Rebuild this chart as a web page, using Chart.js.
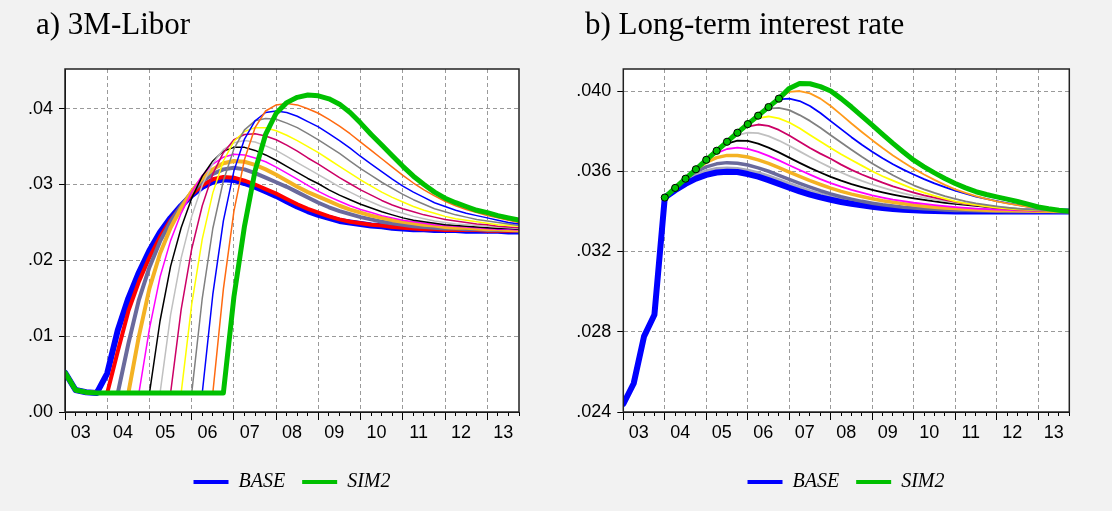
<!DOCTYPE html>
<html><head><meta charset="utf-8">
<script src="https://cdn.jsdelivr.net/npm/chart.js@4/dist/chart.umd.min.js"></script>
<style>
html,body{margin:0;padding:0;background:#f2f2f2;overflow:hidden;width:1112px;height:511px;position:relative}
canvas{position:absolute;top:0}
#c1{left:0}
#c2{left:556px}
</style></head><body>
<canvas id="c1" width="584" height="511" style="width:584px;height:511px"></canvas>
<canvas id="c2" width="580" height="511" style="width:580px;height:511px"></canvas>
<script>
// ---------- categories & tick labels ----------
const quarters = ['2003Q1','2003Q2','2003Q3','2003Q4','2004Q1','2004Q2','2004Q3','2004Q4','2005Q1','2005Q2','2005Q3','2005Q4','2006Q1','2006Q2','2006Q3','2006Q4','2007Q1','2007Q2','2007Q3','2007Q4','2008Q1','2008Q2','2008Q3','2008Q4','2009Q1','2009Q2','2009Q3','2009Q4','2010Q1','2010Q2','2010Q3','2010Q4','2011Q1','2011Q2','2011Q3','2011Q4','2012Q1','2012Q2','2012Q3','2012Q4','2013Q1','2013Q2','2013Q3','2013Q4'];
const yearLabels = ['03','04','05','06','07','08','09','10','11','12','13'];
const legendNames = ['BASE','SIM2'];
const titles = ['a) 3M-Libor', 'b) Long-term interest rate'];

// ---------- a) 3M-Libor ----------
const lBase    = [.0052,.0029,.0026,.0025,.0051,.0108,.0150,.0184,.0213,.0237,.0256,.0272,.0286,.0297,.0304,.0307,.0306,.0302,.0297,.0291,.0285,.0278,.0271,.0265,.0260,.0256,.0252,.0250,.0248,.0246,.0245,.0243,.0242,.0241,.0241,.0240,.0240,.0240,.0239,.0239,.0239,.0239,.0238,.0238];
const lRed     = [.0052,.0029,.0026,.0025,.0025,.0080,.0133,.0172,.0204,.0231,.0253,.0271,.0287,.0299,.0307,.0310,.0309,.0305,.0300,.0294,.0288,.0281,.0274,.0268,.0263,.0258,.0254,.0251,.0249,.0247,.0246,.0244,.0243,.0242,.0241,.0241,.0240,.0240,.0240,.0240,.0239,.0239,.0239,.0239];
const lSlate   = [.0052,.0029,.0026,.0025,.0025,.0025,.0090,.0148,.0191,.0225,.0251,.0272,.0290,.0304,.0314,.0320,.0322,.0320,.0315,.0309,.0303,.0297,.0290,.0283,.0276,.0270,.0265,.0261,.0257,.0254,.0251,.0249,.0247,.0245,.0244,.0243,.0242,.0242,.0241,.0241,.0240,.0240,.0240,.0239];
const lGold    = [.0052,.0029,.0026,.0025,.0025,.0025,.0025,.0100,.0163,.0209,.0243,.0269,.0291,.0308,.0320,.0328,.0331,.0330,.0326,.0320,.0313,.0305,.0297,.0290,.0284,.0278,.0272,.0267,.0263,.0259,.0256,.0253,.0251,.0249,.0247,.0246,.0244,.0243,.0243,.0242,.0241,.0241,.0240,.0240];
const lMagenta = [.0052,.0029,.0026,.0025,.0025,.0025,.0025,.0025,.0110,.0178,.0226,.0262,.0290,.0312,.0327,.0336,.0340,.0339,.0335,.0330,.0323,.0315,.0307,.0299,.0291,.0284,.0278,.0272,.0267,.0263,.0259,.0256,.0253,.0251,.0249,.0247,.0246,.0245,.0244,.0243,.0242,.0241,.0241,.0240];
const lBlack   = [.0052,.0029,.0026,.0025,.0025,.0025,.0025,.0025,.0025,.0120,.0192,.0243,.0282,.0311,.0331,.0344,.0349,.0349,.0345,.0339,.0332,.0324,.0316,.0308,.0301,.0293,.0286,.0280,.0274,.0269,.0264,.0260,.0256,.0253,.0251,.0249,.0247,.0246,.0245,.0244,.0243,.0242,.0242,.0241];
const lSilver  = [.0052,.0029,.0026,.0025,.0025,.0025,.0025,.0025,.0025,.0025,.0128,.0203,.0258,.0299,.0328,.0346,.0355,.0358,.0356,.0351,.0345,.0337,.0329,.0321,.0313,.0305,.0297,.0290,.0283,.0277,.0271,.0266,.0262,.0258,.0255,.0252,.0250,.0248,.0247,.0246,.0245,.0244,.0243,.0242];
const lCrimson = [.0052,.0029,.0026,.0025,.0025,.0025,.0025,.0025,.0025,.0025,.0025,.0135,.0215,.0272,.0314,.0342,.0359,.0366,.0367,.0364,.0359,.0352,.0344,.0335,.0327,.0318,.0309,.0301,.0293,.0286,.0279,.0273,.0268,.0264,.0260,.0257,.0254,.0252,.0250,.0248,.0247,.0245,.0244,.0243];
const lYellow  = [.0052,.0029,.0026,.0025,.0025,.0025,.0025,.0025,.0025,.0025,.0025,.0025,.0142,.0228,.0289,.0331,.0357,.0370,.0375,.0375,.0371,.0365,.0358,.0350,.0342,.0333,.0324,.0315,.0306,.0298,.0290,.0283,.0277,.0271,.0266,.0262,.0258,.0255,.0253,.0251,.0249,.0247,.0246,.0245];
const lGray    = [.0052,.0029,.0026,.0025,.0025,.0025,.0025,.0025,.0025,.0025,.0025,.0025,.0025,.0150,.0242,.0305,.0347,.0372,.0384,.0387,.0386,.0381,.0375,.0367,.0359,.0350,.0341,.0331,.0321,.0312,.0303,.0295,.0287,.0280,.0274,.0268,.0264,.0260,.0257,.0254,.0252,.0250,.0248,.0246];
const lBlue2   = [.0052,.0029,.0026,.0025,.0025,.0025,.0025,.0025,.0025,.0025,.0025,.0025,.0025,.0025,.0155,.0252,.0318,.0360,.0384,.0395,.0397,.0395,.0390,.0383,.0376,.0367,.0358,.0348,.0337,.0327,.0317,.0307,.0298,.0290,.0283,.0276,.0271,.0266,.0262,.0259,.0256,.0253,.0250,.0248];
const lOrange  = [.0052,.0029,.0026,.0025,.0025,.0025,.0025,.0025,.0025,.0025,.0025,.0025,.0025,.0025,.0025,.0162,.0265,.0333,.0375,.0397,.0405,.0407,.0405,.0400,.0394,.0386,.0377,.0367,.0356,.0345,.0334,.0323,.0312,.0302,.0293,.0285,.0278,.0272,.0267,.0263,.0259,.0256,.0253,.0250];
const lSim2    = [.0052,.0029,.0026,.0025,.0025,.0025,.0025,.0025,.0025,.0025,.0025,.0025,.0025,.0025,.0025,.0025,.0152,.0245,.0318,.0366,.0394,.0408,.0415,.0418,.0417,.0413,.0406,.0395,.0381,.0366,.0352,.0338,.0324,.0311,.0300,.0290,.0282,.0276,.0271,.0266,.0263,.0259,.0256,.0253];

// ---------- b) Long-term interest rate ----------
const rBase    = [.0244,.02542,.02777,.02885,.03469,.03505,.03537,.03563,.03582,.03594,.03598,.03596,.03586,.03573,.03556,.03537,.03518,.035,.03484,.0347,.03458,.03447,.03438,.0343,.03423,.03417,.03412,.03408,.03405,.03403,.03402,.03401,.034,.034,.034,.034,.034,.034,.034,.034,.034,.034,.034,.034];
const rRed     = [null,null,null,null,.03469,.03517,.03552,.0358,.036,.03611,.03614,.03611,.03603,.0359,.03574,.03556,.03537,.03518,.035,.03484,.0347,.03458,.03447,.03438,.0343,.03424,.03418,.03414,.0341,.03407,.03405,.03403,.03402,.03401,.034,.034,.034,.034,.034,.034,.034,.034,.034,.034];
const rSlate   = [null,null,null,null,.03469,.03517,.03563,.03598,.03622,.03637,.03643,.0364,.03631,.03617,.036,.0358,.0356,.0354,.03521,.03503,.03487,.03473,.03461,.0345,.03441,.03433,.03427,.03421,.03417,.03413,.0341,.03407,.03405,.03404,.03403,.03402,.03401,.034,.034,.034,.034,.034,.034,.034];
const rGold    = [null,null,null,null,.03469,.03517,.03563,.0361,.03645,.03668,.03679,.03679,.03671,.03657,.03639,.03618,.03596,.03574,.03553,.03534,.03516,.035,.03486,.03474,.03463,.03453,.03445,.03438,.03432,.03426,.03421,.03417,.03414,.03411,.03408,.03406,.03405,.03404,.03403,.03402,.03401,.03401,.034,.034];
const rMagenta = [null,null,null,null,.03469,.03517,.03563,.0361,.03657,.0369,.03711,.03718,.03712,.03697,.03677,.03654,.0363,.03606,.03583,.03561,.03541,.03523,.03507,.03493,.0348,.03469,.03459,.03451,.03443,.03437,.03431,.03426,.03421,.03417,.03414,.03411,.03409,.03407,.03405,.03404,.03403,.03402,.03401,.034];
const rBlack   = [null,null,null,null,.03469,.03517,.03563,.0361,.03657,.03702,.03738,.03753,.03751,.03738,.03718,.03694,.03668,.03642,.03617,.03594,.03572,.03553,.03536,.03521,.03507,.03495,.03484,.03474,.03465,.03457,.0345,.03443,.03437,.03432,.03427,.03423,.03419,.03415,.03412,.03409,.03406,.03404,.03402,.03401];
const rSilver  = [null,null,null,null,.03469,.03517,.03563,.0361,.03657,.03702,.03747,.0378,.03793,.0379,.03775,.03753,.03727,.03699,.03671,.03644,.03618,.03594,.03572,.03552,.03534,.03518,.03503,.0349,.03478,.03468,.03459,.03451,.03444,.03438,.03432,.03427,.03422,.03418,.03414,.0341,.03407,.03404,.03402,.03401];
const rCrimson = [null,null,null,null,.03469,.03517,.03563,.0361,.03657,.03702,.03747,.03792,.03823,.03833,.03826,.03806,.03778,.03747,.03716,.03688,.03662,.03633,.03607,.03584,.03563,.03543,.03525,.03509,.03494,.0348,.03468,.03457,.03447,.03438,.03431,.03424,.03418,.03413,.03409,.03406,.03404,.03402,.03401,.034];
const rYellow  = [null,null,null,null,.03469,.03517,.03563,.0361,.03657,.03702,.03747,.03792,.03835,.03865,.03873,.03864,.03843,.03814,.03781,.03748,.03716,.03685,.03656,.03628,.036,.03575,.03553,.03532,.03511,.03493,.03477,.03463,.0345,.0344,.03432,.03425,.03419,.03414,.0341,.03407,.03405,.03403,.03401,.034];
const rGray    = [null,null,null,null,.03469,.03517,.03563,.0361,.03657,.03702,.03747,.03792,.03835,.03877,.03912,.03916,.03905,.0388,.03851,.03817,.0378,.03743,.03707,.03672,.03639,.03609,.0358,.03554,.0353,.0351,.03492,.03476,.03462,.0345,.0344,.03432,.03425,.03419,.03414,.0341,.03407,.03404,.03402,.03401];
const rBlue2   = [null,null,null,null,.03469,.03517,.03563,.0361,.03657,.03702,.03747,.03792,.03835,.03877,.0392,.03958,.03962,.0395,.03925,.0389,.0385,.0381,.0377,.03732,.03697,.03665,.03635,.03608,.03584,.03561,.0354,.03521,.03503,.03488,.03474,.03462,.03451,.03441,.03432,.03424,.03417,.0341,.03405,.03401];
const rOrange  = [null,null,null,null,.03469,.03517,.03563,.0361,.03657,.03702,.03747,.03792,.03835,.03877,.0392,.03962,.03996,.04,.03988,.03962,.03925,.03882,.03838,.03796,.03755,.03716,.03679,.03645,.03613,.03584,.03557,.03532,.0351,.03492,.03476,.03462,.0345,.0344,.03431,.03423,.03416,.0341,.03405,.03401];
const rSim2    = [null,null,null,null,.03469,.03517,.03563,.0361,.03657,.03702,.03747,.03792,.03835,.03877,.0392,.03962,.04013,.04038,.04036,.04022,.04,.03962,.0392,.03875,.0383,.03784,.03739,.03696,.03655,.03622,.03592,.03564,.03539,.03517,.03498,.03484,.03472,.03461,.03449,.03436,.03422,.03413,.03406,.03401];

// ---------- styles (drawing order bottom -> top) ----------
const leftSeries = [
  {label:'BASE', data:lBase, color:'#0000ff', width:6},
  {label:'S1', data:lRed, color:'#ff0000', width:4},
  {label:'S2', data:lSlate, color:'#6a6a9c', width:4},
  {label:'S3', data:lGold, color:'#f4b223', width:4},
  {label:'S4', data:lMagenta, color:'#ff00ff', width:1.5},
  {label:'S5', data:lBlack, color:'#000000', width:1.5},
  {label:'S6', data:lSilver, color:'#c0c0c0', width:1.5},
  {label:'S7', data:lCrimson, color:'#cc0066', width:1.5},
  {label:'S8', data:lYellow, color:'#ffff00', width:1.5},
  {label:'S9', data:lGray, color:'#808080', width:1.5},
  {label:'S10', data:lBlue2, color:'#0000ff', width:1.5},
  {label:'S11', data:lOrange, color:'#ff6a10', width:1.5},
  {label:'SIM2', data:lSim2, color:'#00c000', width:5}
];
const rightSeries = [
  {label:'S1', data:rRed, color:'#a9a9bd', width:4},
  {label:'BASE', data:rBase, color:'#0000ff', width:6},
  {label:'S2', data:rSlate, color:'#6a6a9c', width:3.5},
  {label:'S3', data:rGold, color:'#f4b223', width:3.5},
  {label:'S4', data:rMagenta, color:'#ff00ff', width:1.8},
  {label:'S5', data:rBlack, color:'#000000', width:1.8},
  {label:'S6', data:rSilver, color:'#c0c0c0', width:1.8},
  {label:'S7', data:rCrimson, color:'#cc0066', width:1.8},
  {label:'S8', data:rYellow, color:'#ffff00', width:1.8},
  {label:'S9', data:rGray, color:'#808080', width:1.8},
  {label:'S10', data:rBlue2, color:'#0000ff', width:1.8},
  {label:'S11', data:rOrange, color:'#ff9a1a', width:1.8},
  {label:'SIM2', data:rSim2, color:'#00c000', width:5, markers:[4,15]}
];

const framePlugin = {
  id: 'frame',
  beforeDraw(chart) {
    const {ctx, chartArea: a} = chart;
    ctx.save(); ctx.fillStyle = '#ffffff';
    ctx.fillRect(a.left, a.top, a.right - a.left, a.bottom - a.top);
    ctx.restore();
  },
  afterDraw(chart, args, opts) {
    const {ctx, chartArea: a} = chart;
    ctx.save(); ctx.strokeStyle = '#222'; ctx.lineWidth = 1.5;
    ctx.strokeRect(a.left, a.top, a.right - a.left, a.bottom - a.top);
    ctx.fillStyle = '#000';
    ctx.font = '31px "Liberation Serif"';
    ctx.textAlign = 'left'; ctx.textBaseline = 'alphabetic';
    ctx.fillText(opts.text, opts.x, opts.y);
    ctx.restore();
  }
};

function makeChart(id, title, titleX, series, yMin, yMax, yStep, dec, axisW, axisW2, lblOffset) {
  const n = series.length;
  const datasets = series.map((s, i) => ({
    label: s.label,
    data: s.data.map((v, k) => ({x: k, y: v})),
    borderColor: s.color,
    backgroundColor: s.color,
    borderWidth: s.width,
    tension: 0,
    fill: false,
    clip: 0,
    spanGaps: false,
    order: n - 1 - i,
    borderJoinStyle: 'round',
    borderCapStyle: 'round',
    pointRadius: s.markers ? (c => (c.dataIndex >= s.markers[0] && c.dataIndex <= s.markers[1]) ? 3.6 : 0) : 0,
    pointBackgroundColor: s.color,
    pointBorderColor: '#000',
    pointBorderWidth: 1
  }));
  const transparent = 'rgba(0,0,0,0)';
  return new Chart(document.getElementById(id), {
    type: 'line',
    data: {datasets},
    plugins: [framePlugin],
    options: {
      responsive: false, animation: false, devicePixelRatio: 1, events: [],
      layout: {padding: {left: 0, right: 0, top: 69, bottom: 9}},
      plugins: {
        frame: {text: title, x: titleX, y: 33.5},
        tooltip: {enabled: false},
        title: {display: false},
        legend: {position: 'bottom', align: 'center',
          labels: {boxWidth: 35, boxHeight: 4, padding: 17, color: '#000',
            font: {family: 'Liberation Serif', size: 20, style: 'italic'},
            generateLabels: (chart) => legendNames.map(name => {
              const di = chart.data.datasets.findIndex(d => d.label === name);
              const ds = chart.data.datasets[di];
              return {text: name, fillStyle: ds.borderColor, strokeStyle: ds.borderColor, lineWidth: 0, hidden: false, datasetIndex: di, fontColor: '#000'};
            })}}
      },
      scales: {
        x: {type: 'linear', position: 'bottom', weight: 1, min: 0, max: quarters.length - 1,
          afterBuildTicks: s => { s.ticks = yearLabels.map((_, k) => ({value: 4 * k})); },
          afterFit: s => { s.height = 43; },
          ticks: {autoSkip: false, maxRotation: 0, minRotation: 0, padding: 2, labelOffset: lblOffset, color: '#000',
            font: {family: 'Liberation Sans', size: 18}, callback: (v, i) => yearLabels[i]},
          grid: {color: c => (c.tick && c.tick.value === 0) ? transparent : '#9a9a9a', lineWidth: 1,
            tickLength: 8, tickColor: '#000', tickWidth: 1},
          border: {display: true, color: '#000', width: 1, dash: [4, 3]}},
        xm: {type: 'linear', position: 'bottom', weight: 0, min: 0, max: quarters.length - 1,
          afterBuildTicks: s => { s.ticks = quarters.map((_, k) => ({value: k})); },
          afterFit: s => { s.height = 0; },
          ticks: {display: false},
          grid: {drawOnChartArea: false, tickLength: 4, tickColor: '#000', tickWidth: 1, color: '#000'},
          border: {display: false}},
        y: {type: 'linear', position: 'left', min: yMin, max: yMax,
          afterFit: s => { s.width = axisW; },
          ticks: {stepSize: yStep, includeBounds: false, padding: 6, color: '#000',
            font: {family: 'Liberation Sans', size: 18},
            callback: v => v.toFixed(dec).replace(/^0/, '')},
          grid: {color: c => (c.tick && Math.abs(c.tick.value - yMin) < 1e-9) ? transparent : '#9a9a9a', lineWidth: 1,
            tickLength: 6, tickColor: '#000'},
          border: {display: true, color: '#000', width: 1, dash: [4, 3]}},
        y2: {type: 'linear', position: 'right', display: true,
          afterFit: s => { s.width = axisW2; },
          ticks: {display: false}, grid: {display: false}, border: {display: false}}
      }
    }
  });
}

makeChart('c1', titles[0], 36, leftSeries, 0, 0.045236, 0.01, 2, 65, 65, 15.84);
makeChart('c2', titles[1], 29, rightSeries, 0.024, 0.041097, 0.004, 3, 67.3, 66.7, 15.56);
</script>
</body></html>
